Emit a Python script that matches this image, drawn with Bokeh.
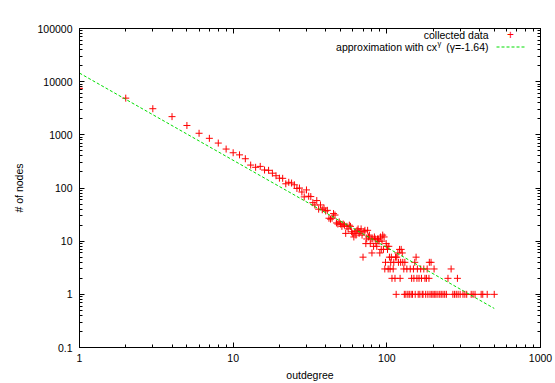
from bokeh.plotting import figure
from bokeh.models import (FixedTicker, CustomJSTickFormatter, LogAxis, Label, Arrow)
from bokeh.embed import file_html
from bokeh.resources import INLINE

# ---- data ----
deg_head = list(range(1, 101))
cnt_head = [7500, 4900, 3100, 2200, 1500, 1070, 860, 700, 540, 460,
            420, 355, 270, 245, 255, 218, 215, 190, 170, 153,
            152, 120, 128, 124, 115, 98, 100, 84, 68, 92,
            70, 69, 53, 48, 58, 40, 48, 39, 42, 37,
            38, 27, 26, 27, 33, 31, 22, 21, 23, 21,
            19, 21, 20, 14, 19, 17, 20, 19, 15, 14,
            12, 15, 13, 16, 17, 14, 15, 17, 13, 5,
            15, 16, 9, 11, 16, 12, 13, 9, 11, 6,
            11, 8, 12, 11, 9, 8, 11, 11, 10, 6,
            12, 7, 10, 13, 7, 12, 3, 4, 9, 8]

deg_tail = [101, 102, 103, 104, 105, 106, 107, 108, 110, 111,
            113, 114, 115, 116, 118, 119, 121, 122, 123, 124,
            126, 127, 129, 130, 131, 133, 135, 137, 140, 142,
            144, 145, 147, 149, 150, 152, 153, 155, 157, 158,
            160, 162, 164, 166, 168, 170, 172, 174, 177, 179,
            181, 183, 185, 188, 189, 191, 194, 196, 200, 203,
            205, 209, 215, 221, 226, 232, 238, 244, 250, 262,
            269, 276, 283, 288, 291, 300, 313, 322, 331, 354,
            364, 375, 411, 421, 450, 500]
cnt_tail = [7, 3, 8, 5, 3, 4, 5, 2, 3, 4,
            2, 5, 1, 5, 6, 4, 7, 2, 4, 7,
            6, 4, 3, 1, 4, 1, 3, 1, 1, 3,
            1, 2, 1, 3, 2, 4, 1, 5, 2, 3,
            1, 2, 1, 3, 2, 1, 1, 3, 2, 1,
            2, 3, 1, 2, 4, 1, 4, 1, 1, 3,
            1, 1, 1, 1, 1, 1, 1, 1, 2, 3,
            1, 1, 1, 2, 1, 1, 1, 1, 1, 1,
            1, 1, 1, 1, 1, 1]

# fitted approximation c * x^gamma
fit_c = 14500.0
fit_gamma = -1.64
fit_x = [1, 500]
fit_y = [fit_c * x ** fit_gamma for x in fit_x]

x_major = [1, 10, 100, 1000]
y_major = [0.1, 1, 10, 100, 1000, 10000, 100000]

def minors(majors):
    out = []
    for m in majors[:-1]:
        out += [m * k for k in range(2, 10)]
    return out

FONT = "Liberation Sans"
FS = "10.5px"

p = figure(width=555, height=383, x_axis_type="log", y_axis_type="log",
           x_range=(1, 1000), y_range=(0.1, 100000),
           output_backend="svg", toolbar_location=None,
           min_border_left=79, min_border_right=15,
           min_border_top=28, min_border_bottom=35)
p.grid.visible = False
p.outline_line_color = "black"
p.outline_line_width = 1
p.background_fill_color = "white"
p.border_fill_color = "white"

fmt = CustomJSTickFormatter(code="return tick >= 1 ? tick.toFixed(0) : tick.toString();")
blank = CustomJSTickFormatter(code="return ' ';")

xt = FixedTicker(ticks=x_major, minor_ticks=minors(x_major))
yt = FixedTicker(ticks=y_major, minor_ticks=minors(y_major))

def style(ax, labels=True):
    ax.major_tick_in = 5
    ax.major_tick_out = 0
    ax.minor_tick_in = 3
    ax.minor_tick_out = 0
    ax.axis_line_color = "black"
    ax.major_tick_line_color = "black"
    ax.minor_tick_line_color = "black"
    if labels:
        ax.major_label_text_font = FONT
        ax.major_label_text_font_size = FS
        ax.major_label_text_color = "black"
        ax.axis_label_text_font = FONT
        ax.axis_label_text_font_size = FS
        ax.axis_label_text_font_style = "normal"
        ax.axis_label_text_color = "black"
    else:
        ax.formatter = blank
        ax.major_label_text_font_size = "2px"
        ax.major_label_text_alpha = 0
        ax.major_label_standoff = 0

xa = p.xaxis[0]
xa.ticker = xt
xa.formatter = fmt
xa.axis_label = "outdegree"
style(xa)
xa.major_label_standoff = 6
xa.axis_label_standoff = 4

ya = p.yaxis[0]
ya.ticker = yt
ya.formatter = fmt
ya.axis_label = "# of nodes"
style(ya)
ya.major_label_standoff = 7
ya.axis_label_standoff = 9

top = LogAxis(ticker=FixedTicker(ticks=x_major, minor_ticks=minors(x_major)))
style(top, labels=False)
p.add_layout(top, "above")
right = LogAxis(ticker=FixedTicker(ticks=y_major, minor_ticks=minors(y_major)))
style(right, labels=False)
p.add_layout(right, "right")

# data
p.scatter(deg_head + deg_tail, cnt_head + cnt_tail, marker="cross", size=7,
          line_color="red", line_width=1)
p.line(fit_x, fit_y, line_color="#00dd00", line_width=1, line_dash="3 2")

# title
p.add_layout(Label(x=230.5, y=338, x_units="screen", y_units="screen",
                   text="Outdegree in OpenPGP keyring", text_align="center",
                   text_baseline="middle", text_font=FONT, text_font_size=FS,
                   text_color="black"))

# legend (gnuplot style: text right-aligned, sample on the right)
p.add_layout(Label(x=409, y=312.5, x_units="screen", y_units="screen",
                   text="collected data", text_align="right", text_baseline="middle",
                   text_font=FONT, text_font_size=FS, text_color="black"))
p.add_layout(Label(x=431, y=313, x_units="screen", y_units="screen",
                   text="+", text_align="center", text_baseline="middle",
                   text_font=FONT, text_font_size="12px", text_color="red"))
p.add_layout(Label(x=409, y=300.5, x_units="screen", y_units="screen",
                   text="(\u03b3=-1.64)", text_align="right", text_baseline="middle",
                   text_font=FONT, text_font_size=FS, text_color="black"))
p.add_layout(Label(x=358, y=304.5, x_units="screen", y_units="screen",
                   text="\u03b3", text_align="left", text_baseline="middle",
                   text_font=FONT, text_font_size="7.5px", text_color="black"))
p.add_layout(Label(x=357.5, y=300.5, x_units="screen", y_units="screen",
                   text="approximation with cx", text_align="right", text_baseline="middle",
                   text_font=FONT, text_font_size=FS, text_color="black"))
p.add_layout(Arrow(end=None, x_start=417, y_start=300.5, x_end=446, y_end=300.5,
                   start_units="screen", end_units="screen",
                   line_color="#00dd00", line_width=1, line_dash="3 2"))

open("out.html", "w").write(file_html(p, INLINE))
